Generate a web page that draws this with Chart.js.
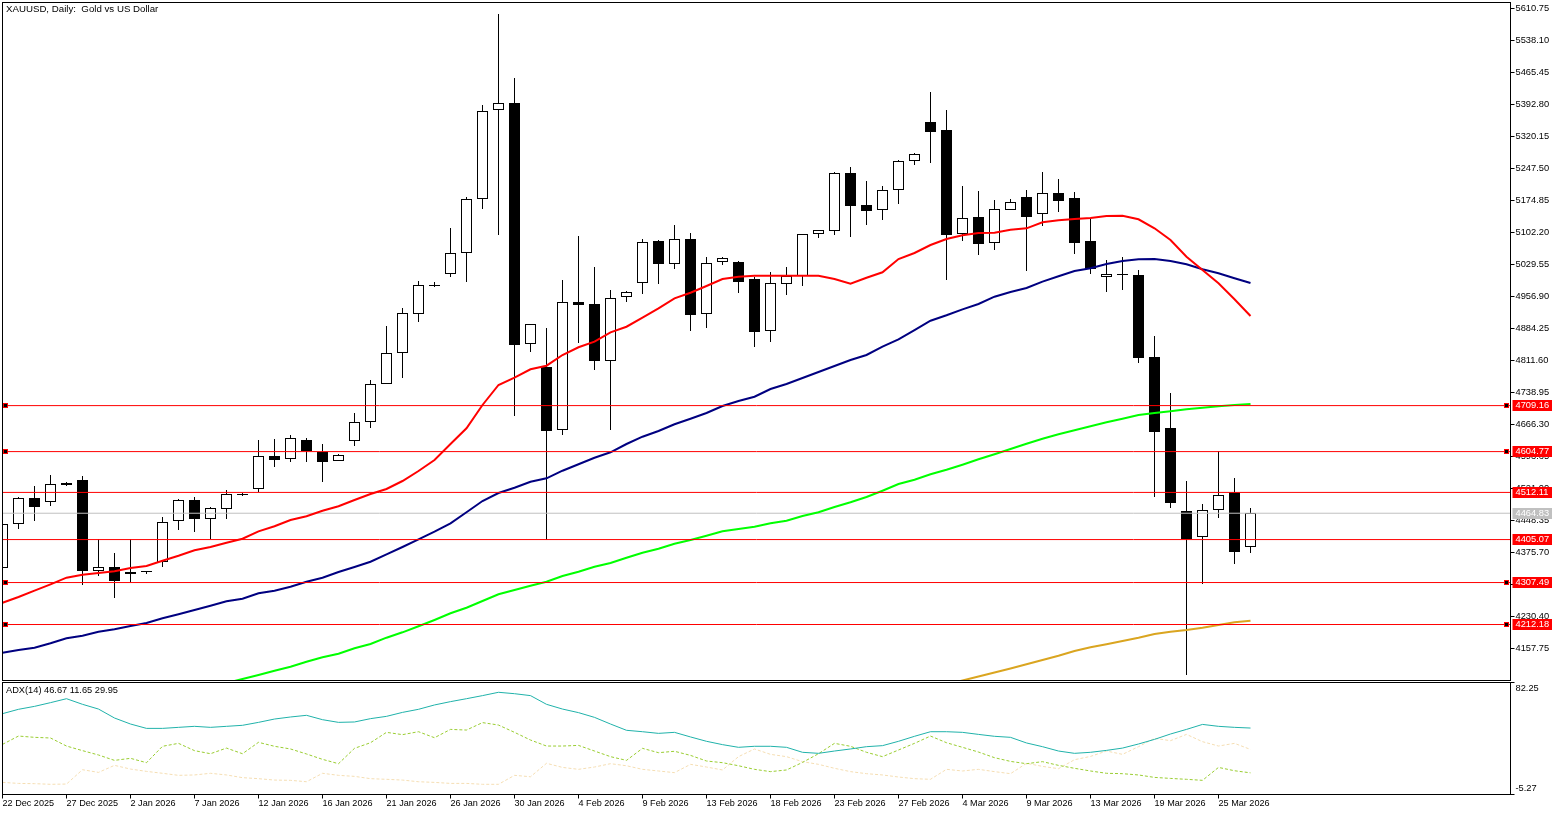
<!DOCTYPE html>
<html>
<head>
<meta charset="utf-8">
<title>XAUUSD, Daily</title>
<script src="https://cdn.jsdelivr.net/npm/chart.js@4"></script>
<style>
html,body{margin:0;padding:0;background:#fff;overflow:hidden}
canvas{position:absolute;left:0;display:block}
#main{top:0}
#sub{top:681px}
</style>
</head>
<body>
<canvas id="main" width="1563" height="681"></canvas>
<canvas id="sub" width="1563" height="134"></canvas>
<script>
const chartTitle = 'XAUUSD, Daily:  Gold vs US Dollar';
const adxTitle = 'ADX(14) 46.67 11.65 29.95';

const open = [4340.52,4440.41,4499.44,4490.36,4533.49,4540.31,4333.71,4342.79,4331.44,4333.71,
4354.14,4447.22,4494.90,4451.76,4474.47,4508.52,4519.87,4594.79,4587.98,4631.12,
4603.87,4583.43,4628.85,4671.98,4758.25,4828.63,4917.18,4983.01,5007.98,5055.66,
5178.26,5380.32,5396.21,4849.07,4796.84,4653.80,4944.42,4939.88,4810.47,4955.77,
4987.55,5082.91,5030.69,5087.45,4917.18,5035.23,5035.23,4996.63,4878.58,4985.28,
5003.45,5098.80,5105.61,5237.29,5164.64,5153.29,5198.69,5264.53,5353.07,5334.91,
5098.80,5137.40,5078.37,5153.29,5182.80,5144.21,5191.88,5180.53,5082.91,5001.17,
5007.98,5005.72,4819.55,4658.42,4469.93,4410.90,4472.20,4513.06,4388.20];
const high = [4440.41,4501.71,4526.68,4551.66,4535.77,4549.39,4406.36,4374.57,4406.36,4333.71,
4456.30,4497.17,4501.71,4479.01,4517.60,4510.79,4631.12,4633.39,4642.47,4635.66,
4622.03,4599.33,4692.42,4767.34,4889.93,4930.80,4992.09,4989.82,5112.42,5182.80,
5391.67,5598.27,5452.97,4894.47,4885.39,4994.36,5094.26,5023.88,4971.66,4969.39,
5087.45,5085.18,5118.95,5101.07,5046.58,5046.58,5037.50,5001.17,5012.52,5023.88,
5098.80,5107.88,5239.56,5250.91,5219.13,5207.77,5266.80,5282.69,5421.19,5380.32,
5207.77,5196.42,5175.99,5178.26,5198.69,5239.56,5223.66,5194.15,5132.85,5039.77,
5046.58,5017.07,4867.22,4737.82,4538.04,4485.82,4606.14,4544.85,4476.74];
const low = [4340.52,4429.06,4447.22,4481.28,4526.68,4301.92,4322.36,4272.41,4308.74,4326.90,
4342.79,4426.79,4422.25,4406.36,4451.76,4503.98,4513.06,4569.82,4581.16,4581.16,
4535.77,4583.43,4617.49,4658.42,4758.25,4771.88,4899.01,4978.46,5001.17,4989.82,
5155.56,5096.53,4685.48,4830.90,4404.09,4642.47,4851.34,4790.03,4653.80,4944.42,
4962.58,4985.28,5019.34,4878.58,4885.39,5028.42,4964.85,4842.26,4853.61,4960.31,
4980.74,5089.72,5096.53,5091.99,5118.95,5130.58,5166.91,5255.45,5259.99,4994.36,
5082.91,5051.12,5062.47,5153.29,5014.80,5116.96,5148.75,5053.39,5007.98,4967.12,
4971.66,4805.93,4501.71,4476.74,4097.60,4304.19,4454.03,4349.60,4374.57];
const close = [4440.41,4499.44,4479.01,4531.22,4528.95,4333.71,4342.79,4311.01,4326.90,4331.44,
4444.95,4494.90,4451.76,4476.74,4508.52,4506.25,4594.79,4585.71,4635.66,4606.14,
4581.16,4597.06,4671.98,4758.25,4828.63,4919.45,4983.01,4980.74,5055.66,5178.26,
5378.05,5396.21,4846.80,4894.47,4651.52,4944.42,4937.61,4810.47,4953.50,4967.12,
5080.64,5030.69,5087.45,4914.91,5032.96,5044.31,4989.82,4876.31,4987.55,5003.45,
5098.80,5107.88,5237.29,5162.37,5151.02,5198.69,5264.53,5280.42,5330.37,5096.53,
5135.12,5076.10,5155.56,5171.45,5137.40,5191.88,5173.72,5078.37,5019.34,5007.98,
5005.72,4817.28,4649.25,4488.09,4406.36,4472.20,4506.25,4376.84,4465.39];

const maRed = [4261.7,4274.7,4289.0,4303.5,4318.5,4325.3,4329.2,4333.0,4340.5,4345.1,
4357.1,4368.4,4380.7,4388.2,4398.0,4407.0,4423.8,4435.2,4449.5,4457.9,
4470.6,4480.6,4494.9,4508.5,4519.9,4538.0,4560.7,4585.7,4622.0,4657.7,
4710.6,4756.0,4772.6,4791.6,4799.8,4824.1,4841.6,4854.3,4875.6,4888.3,
4908.8,4930.1,4952.8,4965.5,4980.7,4996.6,5001.9,5004.1,5004.1,5004.1,
5004.1,5004.1,4996.6,4986.0,4999.6,5011.9,5042.0,5055.7,5073.8,5087.5,
5095.9,5101.1,5101.8,5108.6,5111.7,5125.4,5129.9,5132.9,5135.1,5139.6,
5140.3,5132.2,5111.7,5085.2,5047.3,5017.1,4986.9,4950.6,4912.7];
const maBlue = [4148.2,4154.3,4159.6,4169.6,4180.9,4186.8,4195.9,4201.4,4208.8,4215.7,
4226.3,4235.4,4245.2,4254.9,4264.9,4270.8,4283.1,4289.0,4298.1,4309.4,
4318.5,4331.4,4342.8,4354.8,4371.6,4388.2,4405.7,4422.9,4442.0,4467.0,
4492.6,4510.8,4522.8,4536.4,4544.2,4561.4,4576.0,4590.9,4603.2,4622.0,
4638.6,4651.5,4666.8,4679.5,4692.4,4708.3,4719.7,4729.4,4746.9,4758.2,
4771.9,4785.5,4799.1,4812.7,4824.1,4842.9,4859.7,4880.8,4901.9,4914.2,
4927.8,4939.9,4956.5,4967.1,4976.2,4990.6,5002.8,5014.8,5020.9,5030.7,
5037.5,5041.4,5042.0,5037.5,5030.0,5018.7,5009.6,4998.2,4987.5];
const maGreenFirstBar = 14;
const maGreen = [4079.4,4088.5,4097.6,4107.4,4116.4,4127.8,
4137.8,4146.0,4158.2,4168.0,4182.3,4194.5,4208.2,4222.5,4237.7,4250.4,
4265.6,4280.8,4290.6,4300.3,4309.4,4322.4,4332.1,4343.5,4351.9,4363.9,
4375.2,4384.3,4395.7,4404.1,4413.9,4423.8,4429.1,4434.3,4442.0,4447.9,
4458.6,4467.0,4479.0,4489.7,4501.7,4516.0,4531.2,4541.0,4553.2,4563.7,
4575.1,4587.3,4598.7,4610.7,4622.7,4634.1,4644.1,4653.2,4662.2,4671.3,
4679.5,4687.9,4692.4,4696.3,4700.8,4704.4,4707.6,4710.6,4712.9];
const maOrangeFirstBar = 59;
const maOrange = [4076.0,
4085.1,4094.2,4103.3,4112.4,4121.9,4131.6,4141.4,4152.1,4160.5,4167.3,
4174.8,4182.3,4190.7,4195.9,4199.8,4205.0,4211.2,4217.3,4221.0];

const levelsRed = [4709.16,4604.77,4512.11,4405.07,4307.49,4212.18];
const levelsWithHandles = [4709.16,4604.77,4307.49,4212.18];
const lastPrice = [4464.83];

const adx = [57.9,61.3,63.6,66.5,69.6,65.2,61.5,54.5,49.8,46.4,
46.4,47.2,48.0,47.2,48.0,48.8,51.1,53.7,55.3,56.6,
53.2,51.1,51.4,54.0,55.8,58.9,61.3,64.7,67.3,69.6,
72.0,74.6,73.5,72.0,65.2,61.5,58.7,55.0,49.8,44.9,
43.8,42.5,43.3,39.7,36.3,33.7,31.6,32.4,32.4,31.6,
27.7,26.9,28.7,30.3,32.1,32.9,36.3,40.2,43.8,43.8,
43.3,41.7,40.2,39.4,35.0,32.1,28.7,26.9,27.7,29.2,
31.0,34.2,37.8,42.0,45.6,49.5,48.0,47.2,46.67];
const plusDI = [33.9,40.4,39.4,38.9,32.6,29.0,25.6,21.4,23.0,19.6,
32.4,34.7,29.0,26.6,31.0,26.6,35.5,32.4,30.3,26.4,
22.2,18.8,30.8,35.2,43.3,41.5,43.8,39.1,45.6,45.1,
50.9,49.0,43.3,37.3,32.6,32.6,33.1,28.7,24.3,21.4,
30.8,27.4,28.5,25.3,20.9,19.6,17.2,14.4,12.6,13.9,
19.8,26.6,34.7,32.4,27.7,24.3,29.5,34.7,40.4,35.2,
31.6,27.9,23.5,20.6,18.8,20.4,17.5,15.2,13.1,11.3,
11.0,10.0,8.1,7.3,6.6,5.8,15.9,13.3,11.65];
const minusDI = [4.2,3.4,3.2,2.7,2.9,14.1,12.0,17.5,14.6,12.8,
11.3,9.7,10.0,11.3,10.0,7.9,7.1,6.0,5.8,4.7,
11.3,9.7,8.9,7.1,6.6,6.0,4.7,4.2,3.4,3.4,
2.7,2.7,9.7,8.6,19.1,15.9,14.4,16.2,18.8,17.2,
14.4,13.1,11.8,18.3,16.2,13.9,24.3,30.3,26.1,24.3,
20.4,18.3,15.2,12.6,11.0,10.0,8.4,7.1,6.6,14.4,
13.1,14.4,12.6,11.0,19.1,16.7,14.9,21.9,24.5,28.7,
26.1,32.1,38.6,36.8,41.7,36.0,32.6,34.7,29.95];

const priceTickLabels = ['5610.75','5538.10','5465.45','5392.80','5320.15','5247.50','5174.85','5102.20','5029.55','4956.90','4884.25','4811.60','4738.95','4666.30','4593.65','4521.00','4448.35','4375.70','4303.05','4230.40','4157.75'];
const adxTickLabels = ['82.25','-5.27'];
const dateTickBars = [0,4,8,12,16,20,24,28,32,36,40,44,48,52,56,60,64,68,72,76];
const dateTickLabels = ['22 Dec 2025','27 Dec 2025','2 Jan 2026','7 Jan 2026','12 Jan 2026','16 Jan 2026','21 Jan 2026','26 Jan 2026','30 Jan 2026','4 Feb 2026','9 Feb 2026','13 Feb 2026','18 Feb 2026','23 Feb 2026','27 Feb 2026','4 Mar 2026','9 Mar 2026','13 Mar 2026','19 Mar 2026','25 Mar 2026'];

const X_MIN = 0, X_MAX = 94.25;
const Y_MIN = 4085.11, Y_MAX = 5624.37;
const FONT = '"Liberation Sans", Arial, sans-serif';
const SIZE_TICK = 9.3, SIZE_DATE = 9.1, SIZE_TITLE = 9.7, SIZE_ADX = 9.25;
const BAR_W = 11;

const seq = (vals, first = 0) => vals.map((y, i) => ({x: i + first, y}));
const hline = l => [{x: X_MIN, y: l}, {x: X_MAX, y: l}];
const isUp = i => close[i] >= open[i];
const bars = open.map((_, i) => i);

const maSet = (label, vals, color, first) => ({type:'line', label, data: seq(vals, first), borderColor: color, borderWidth: 2, pointRadius: 0, tension: 0, order: 2, borderJoinStyle:'miter'});
const levelSet = (l, color, order) => ({type:'line', label: String(l), data: hline(l), borderColor: color, borderWidth: 1, pointRadius: 0, order});
const noPad = s => { s.paddingTop = 0; s.paddingBottom = 0; s.paddingLeft = 0; s.paddingRight = 0; };

const drawFrame = (chart, ctx) => {
  const a = chart.chartArea;
  ctx.save();
  ctx.strokeStyle = '#000';
  ctx.lineWidth = 1;
  ctx.strokeRect(a.left, a.top, a.right - a.left, a.bottom - a.top);
  ctx.restore();
};

const mainPlugin = {
  id: 'mainDecor',
  afterDraw(chart) {
    const ctx = chart.ctx, y = chart.scales.y, a = chart.chartArea;
    drawFrame(chart, ctx);
    ctx.save();
    ctx.textBaseline = 'middle';
    ctx.fillStyle = '#000';
    ctx.textAlign = 'left';
    ctx.font = SIZE_TITLE + 'px ' + FONT;
    ctx.fillText(chartTitle, a.left + 3.5, 9.5);
    ctx.font = SIZE_TICK + 'px ' + FONT;
    const tag = (v, color) => {
      const py = Math.round(y.getPixelForValue(v) - 0.5);
      ctx.fillStyle = color;
      ctx.fillRect(a.right + 2, py - 5, 39.5, 11);
      ctx.fillStyle = '#fff';
      ctx.fillText(v.toFixed(2), a.right + 5, py + 0.5);
    };
    lastPrice.forEach(v => tag(v, '#c0c0c0'));
    levelsRed.forEach(v => tag(v, '#ff0000'));
    levelsWithHandles.forEach(v => {
      const py = Math.round(y.getPixelForValue(v) - 0.5);
      [a.left + 0.5, a.right - 6.5].forEach(px => {
        ctx.fillStyle = '#ff0000';
        ctx.fillRect(px, py - 2, 5, 5);
        ctx.fillStyle = '#000';
        ctx.fillRect(px + 1, py - 1, 3, 3);
      });
    });
    ctx.restore();
  }
};

const subPlugin = {
  id: 'subDecor',
  afterDraw(chart) {
    const ctx = chart.ctx, a = chart.chartArea;
    drawFrame(chart, ctx);
    ctx.save();
    ctx.textBaseline = 'middle';
    ctx.textAlign = 'left';
    ctx.fillStyle = '#000';
    ctx.font = SIZE_ADX + 'px ' + FONT;
    ctx.fillText(adxTitle, a.left + 3.5, a.top + 8);
    ctx.font = SIZE_TICK + 'px ' + FONT;
    ctx.fillText(adxTickLabels[0], a.right + 5, a.top + 5.5);
    ctx.fillText(adxTickLabels[1], a.right + 5, a.bottom - 6);
    ctx.restore();
  }
};

new Chart(document.getElementById('main'), {
  data: {
    datasets: [
      ...levelsRed.map(l => levelSet(l, '#ff0000', 1)),
      maSet('MA red', maRed, '#ff0000'),
      maSet('MA blue', maBlue, '#000080'),
      maSet('MA green', maGreen, '#00ff00', maGreenFirstBar),
      maSet('MA orange', maOrange, '#daa520', maOrangeFirstBar),
      ...lastPrice.map(l => levelSet(l, '#c0c0c0', 3)),
      {type:'bar', label:'Up', data: bars.filter(isUp).map(i => ({x:i, y:[open[i], close[i]]})),
       backgroundColor:'#fff', borderColor:'#000', borderWidth:1, borderSkipped:false, barThickness:BAR_W, grouped:false, inflateAmount:0, order:4},
      {type:'bar', label:'Down', data: bars.filter(i => !isUp(i)).map(i => ({x:i, y:[open[i], close[i]]})),
       backgroundColor:'#000', borderColor:'#000', borderWidth:0, barThickness:BAR_W, grouped:false, inflateAmount:0, order:4},
      {type:'bar', label:'Range', data: bars.map(i => ({x:i, y:[low[i], high[i]]})),
       backgroundColor:'#000', borderWidth:0, barThickness:1, grouped:false, inflateAmount:0, order:5}
    ]
  },
  options: {
    responsive:false, animation:false, devicePixelRatio:1, maintainAspectRatio:false,
    layout:{padding:{left:2.5, top:2.5, right:0, bottom:0.5}},
    plugins:{legend:{display:false}, tooltip:{enabled:false}, title:{display:false}},
    scales:{
      x:{type:'linear', offset:false, min:X_MIN, max:X_MAX, display:false, grid:{display:false}},
      y:{type:'linear', position:'right', min:Y_MIN, max:Y_MAX,
        afterBuildTicks(s){ s.ticks = priceTickLabels.map(t => ({value: parseFloat(t)})); },
        afterFit(s){ s.width = 52.5; noPad(s); },
        border:{display:false},
        grid:{drawOnChartArea:false, drawTicks:true, tickLength:4, tickColor:'#000', lineWidth:1},
        ticks:{autoSkip:false, color:'#000', padding:1, font:{family:FONT, size:SIZE_TICK},
          callback:v => v.toFixed(2)}
      }
    }
  },
  plugins:[mainPlugin]
});

new Chart(document.getElementById('sub'), {
  data: {
    datasets: [
      {type:'line', label:'ADX', data: seq(adx), borderColor:'#20b2aa', borderWidth:1, pointRadius:0, tension:0, order:1},
      {type:'line', label:'+DI', data: seq(plusDI), borderColor:'#9acd32', borderWidth:1, borderDash:[3,2], pointRadius:0, tension:0, order:2},
      {type:'line', label:'-DI', data: seq(minusDI), borderColor:'#f5deb3', borderWidth:1, borderDash:[3,2], pointRadius:0, tension:0, order:3}
    ]
  },
  options: {
    responsive:false, animation:false, devicePixelRatio:1, maintainAspectRatio:false,
    layout:{padding:{left:2.5, top:1.5, right:0, bottom:0}},
    plugins:{legend:{display:false}, tooltip:{enabled:false}, title:{display:false}},
    scales:{
      x:{type:'linear', offset:false, min:X_MIN, max:X_MAX,
        afterBuildTicks(s){ s.ticks = dateTickBars.map(v => ({value:v})); },
        afterFit(s){ s.height = 20.5; noPad(s); },
        border:{display:false},
        grid:{drawOnChartArea:false, drawTicks:true, tickLength:4, tickColor:'#000'},
        ticks:{autoSkip:false, maxRotation:0, minRotation:0, align:'start', color:'#000', padding:0, font:{family:FONT, size:SIZE_DATE},
          callback:v => dateTickLabels[dateTickBars.indexOf(v)]}
      },
      y:{type:'linear', position:'right', min:-5.27, max:82.25,
        afterBuildTicks(s){ s.ticks = adxTickLabels.map(t => ({value: parseFloat(t)})); },
        afterFit(s){ s.width = 52.5; noPad(s); },
        border:{display:false},
        grid:{drawOnChartArea:false, drawTicks:true, tickLength:4, tickColor:'#000'},
        ticks:{autoSkip:false, callback:() => '', font:{family:FONT, size:SIZE_TICK}}
      }
    }
  },
  plugins:[subPlugin]
});
</script>
</body>
</html>
